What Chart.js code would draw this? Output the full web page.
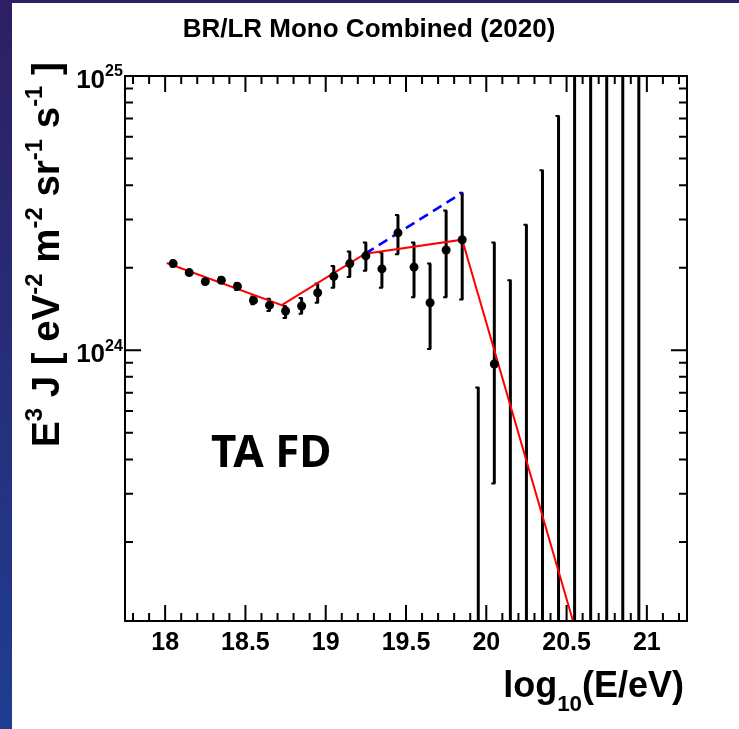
<!DOCTYPE html>
<html>
<head>
<meta charset="utf-8">
<script src="https://cdn.jsdelivr.net/npm/chart.js@4.4.1/dist/chart.umd.min.js"></script>
<style>
html, body { margin: 0; padding: 0; }
body { width: 739px; height: 729px; overflow: hidden; position: relative;
       background: linear-gradient(to bottom, #2e1f63, #1f3d91); }
#sheet { position: absolute; left: 12px; top: 3px; right: 0; bottom: 0; background: #fff; }
#chart { position: absolute; left: 0; top: 0; }
</style>
</head>
<body>
<div id="sheet"></div>
<canvas id="chart" width="739" height="729"></canvas>
<script>
// measured bins (log10 E centres) with E^3 J and its error range
const energy   = [18.05, 18.15, 18.25, 18.35, 18.45, 18.55, 18.65, 18.75, 18.85, 18.95,
                  19.05, 19.15, 19.25, 19.35, 19.45, 19.55, 19.65, 19.75, 19.85, 20.05]
const flux     = [2.07e24, 1.92e24, 1.78e24, 1.80e24, 1.71e24, 1.52e24, 1.46e24, 1.39e24, 1.45e24, 1.62e24,
                  1.86e24, 2.07e24, 2.21e24, 1.98e24, 2.68e24, 2.01e24, 1.49e24, 2.32e24, 2.53e24, 8.91e23]
const fluxLow  = [2.02e24, 1.88e24, 1.74e24, 1.76e24, 1.66e24, 1.47e24, 1.39e24, 1.31e24, 1.36e24, 1.49e24,
                  1.69e24, 1.85e24, 1.95e24, 1.69e24, 2.24e24, 1.56e24, 1.01e24, 1.56e24, 1.53e24, 3.27e23]
const fluxHigh = [2.12e24, 1.96e24, 1.82e24, 1.85e24, 1.76e24, 1.57e24, 1.54e24, 1.45e24, 1.55e24, 1.75e24,
                  2.03e24, 2.29e24, 2.47e24, 2.27e24, 3.11e24, 2.47e24, 2.07e24, 3.23e24, 3.75e24, 2.47e24]

// empty bins: only an upper error bar
const limitEnergy = [19.95, 20.15, 20.25, 20.35, 20.45, 20.55, 20.65, 20.75, 20.85, 20.95]
const limitHigh   = [7.32e23, 1.80e24, 2.87e24, 4.53e24, 7.14e24, 2e25, 2e25, 2e25, 2e25, 2e25]

// broken power law fit and its extrapolation
const fitE = [18.01, 18.726, 19.246, 19.85, 20.54]
const fitJ = [2.08e24, 1.46e24, 2.25e24, 2.53e24, 1.03e23]
const extE = [19.246, 19.85]
const extJ = [2.25e24, 3.75e24]

const xLabels = [18, 18.5, 19, 19.5, 20, 20.5, 21]
const yDecades = [24, 25]

const HELV = '"Liberation Sans", Arial, sans-serif'

const drawRuns = (ctx, runs, size, x0, y0) => {
    let cx = x0
    runs.forEach(([t, mode]) => {
        const s = mode ? size * 0.62 : size
        ctx.font = `bold ${s}px ${HELV}`
        const dy = mode === 1 ? -size * 0.45 : mode === -1 ? size * 0.4 : 0
        ctx.fillText(t, cx, y0 + dy)
        cx += ctx.measureText(t).width
    })
    return cx - x0
}
const runsWidth = (ctx, runs, size) => {
    let w = 0
    runs.forEach(([t, mode]) => {
        ctx.font = `bold ${mode ? size * 0.62 : size}px ${HELV}`
        w += ctx.measureText(t).width
    })
    return w
}

const errorBars = {
    id: 'errorBars',
    beforeDatasetsDraw(chart) {
        const { ctx, chartArea: a, scales: { x, y } } = chart
        ctx.save()
        ctx.beginPath()
        ctx.rect(a.left, a.top, a.right - a.left, a.bottom - a.top)
        ctx.clip()
        ctx.strokeStyle = '#000'
        const bar = (px, y1, y2) => {
            ctx.lineWidth = 3
            ctx.beginPath(); ctx.moveTo(px, y1); ctx.lineTo(px, y2); ctx.stroke()
            ctx.lineWidth = 2
            ctx.beginPath()
            ctx.moveTo(px - 3, y1); ctx.lineTo(px + 1, y1)
            ctx.moveTo(px - 3, y2); ctx.lineTo(px + 1, y2)
            ctx.stroke()
        }
        energy.forEach((e, i) => {
            bar(x.getPixelForValue(e), y.getPixelForValue(fluxLow[i]), y.getPixelForValue(fluxHigh[i]))
        })
        limitEnergy.forEach((e, i) => {
            bar(x.getPixelForValue(e), a.bottom + 2, y.getPixelForValue(limitHigh[i]))
        })
        ctx.restore()
    }
}

const rootFrame = {
    id: 'rootFrame',
    afterDraw(chart) {
        const { ctx, chartArea: a, scales: { x, y } } = chart
        ctx.save()
        ctx.strokeStyle = '#000'
        ctx.fillStyle = '#000'
        ctx.lineWidth = 2
        ctx.strokeRect(a.left, a.top, a.right - a.left, a.bottom - a.top)

        // x ticks, bottom and top
        ctx.beginPath()
        for (let k = Math.ceil(x.min * 10); k <= Math.floor(x.max * 10); k++) {
            const px = x.getPixelForValue(k / 10)
            const len = k % 5 === 0 ? 16 : 8
            ctx.moveTo(px, a.bottom); ctx.lineTo(px, a.bottom - len)
            ctx.moveTo(px, a.top); ctx.lineTo(px, a.top + len)
        }
        // y ticks, left and right
        for (let d = 23; d <= 25; d++) {
            for (let m = 1; m <= 9; m++) {
                const v = m * Math.pow(10, d)
                if (v < y.min || v > y.max) continue
                const py = y.getPixelForValue(v)
                const len = m === 1 ? 16 : 8
                ctx.moveTo(a.left, py); ctx.lineTo(a.left + len, py)
                ctx.moveTo(a.right, py); ctx.lineTo(a.right - len, py)
            }
        }
        ctx.stroke()

        // x tick labels
        ctx.font = `bold 25px ${HELV}`
        ctx.textAlign = 'center'
        ctx.textBaseline = 'alphabetic'
        xLabels.forEach(v => ctx.fillText(String(v), x.getPixelForValue(v), a.bottom + 29))

        // y tick labels 10^n
        ctx.textAlign = 'left'
        yDecades.forEach(d => {
            const py = y.getPixelForValue(Math.pow(10, d))
            const runs = [['10', 0], [String(d), 1]]
            const w = runsWidth(ctx, runs, 26)
            drawRuns(ctx, runs, 26, a.left - 2 - w, py + 12)
        })

        // title
        ctx.font = `bold 26px ${HELV}`
        ctx.textAlign = 'center'
        ctx.fillText('BR/LR Mono Combined (2020)', 369, 37)

        // x axis title
        ctx.textAlign = 'left'
        const xRuns = [['log', 0], ['10', -1], ['(E/eV)', 0]]
        const xw = runsWidth(ctx, xRuns, 36)
        drawRuns(ctx, xRuns, 36, a.right - 3 - xw, 697)

        // y axis title, rotated
        ctx.save()
        ctx.translate(59, 447)
        ctx.rotate(-Math.PI / 2)
        drawRuns(ctx, [['E', 0], ['3', 1], [' J [ eV', 0], ['-2', 1], [' m', 0], ['-2', 1],
                       [' sr', 0], ['-1', 1], [' s', 0], ['-1', 1], [' ]', 0]], 38.5, 0, 0)
        ctx.restore()

        // in-plot label
        ctx.font = 'bold 44px "Noto Sans", "Open Sans", sans-serif'
        ctx.fillText('TA FD', 211, 467)
        ctx.restore()
    }
}

new Chart(document.getElementById('chart').getContext('2d'), {
    type: 'scatter',
    data: {
        datasets: [{
            label: 'data',
            data: energy.map((e, i) => ({ x: e, y: flux[i] })),
            pointRadius: 4.5,
            pointBackgroundColor: '#000',
            pointBorderColor: '#000',
            pointBorderWidth: 0,
            showLine: false,
            order: 0
        }, {
            label: 'fit',
            data: fitE.map((e, i) => ({ x: e, y: fitJ[i] })),
            showLine: true,
            borderColor: '#ff0000',
            borderWidth: 2,
            pointRadius: 0,
            order: 2
        }, {
            label: 'extrapolation',
            data: extE.map((e, i) => ({ x: e, y: extJ[i] })),
            showLine: true,
            borderColor: '#0000ff',
            borderWidth: 2.5,
            borderDash: [10, 6],
            pointRadius: 0,
            order: 1
        }]
    },
    options: {
        responsive: false,
        animation: false,
        devicePixelRatio: 1,
        layout: { padding: { left: 125, right: 52, top: 76, bottom: 108 } },
        plugins: { legend: { display: false }, tooltip: { enabled: false } },
        scales: {
            x: { type: 'linear', min: 17.75, max: 21.25, display: false },
            y: { type: 'logarithmic', min: 1.03e23, max: 1e25, display: false }
        }
    },
    plugins: [errorBars, rootFrame]
})
</script>
</body>
</html>
